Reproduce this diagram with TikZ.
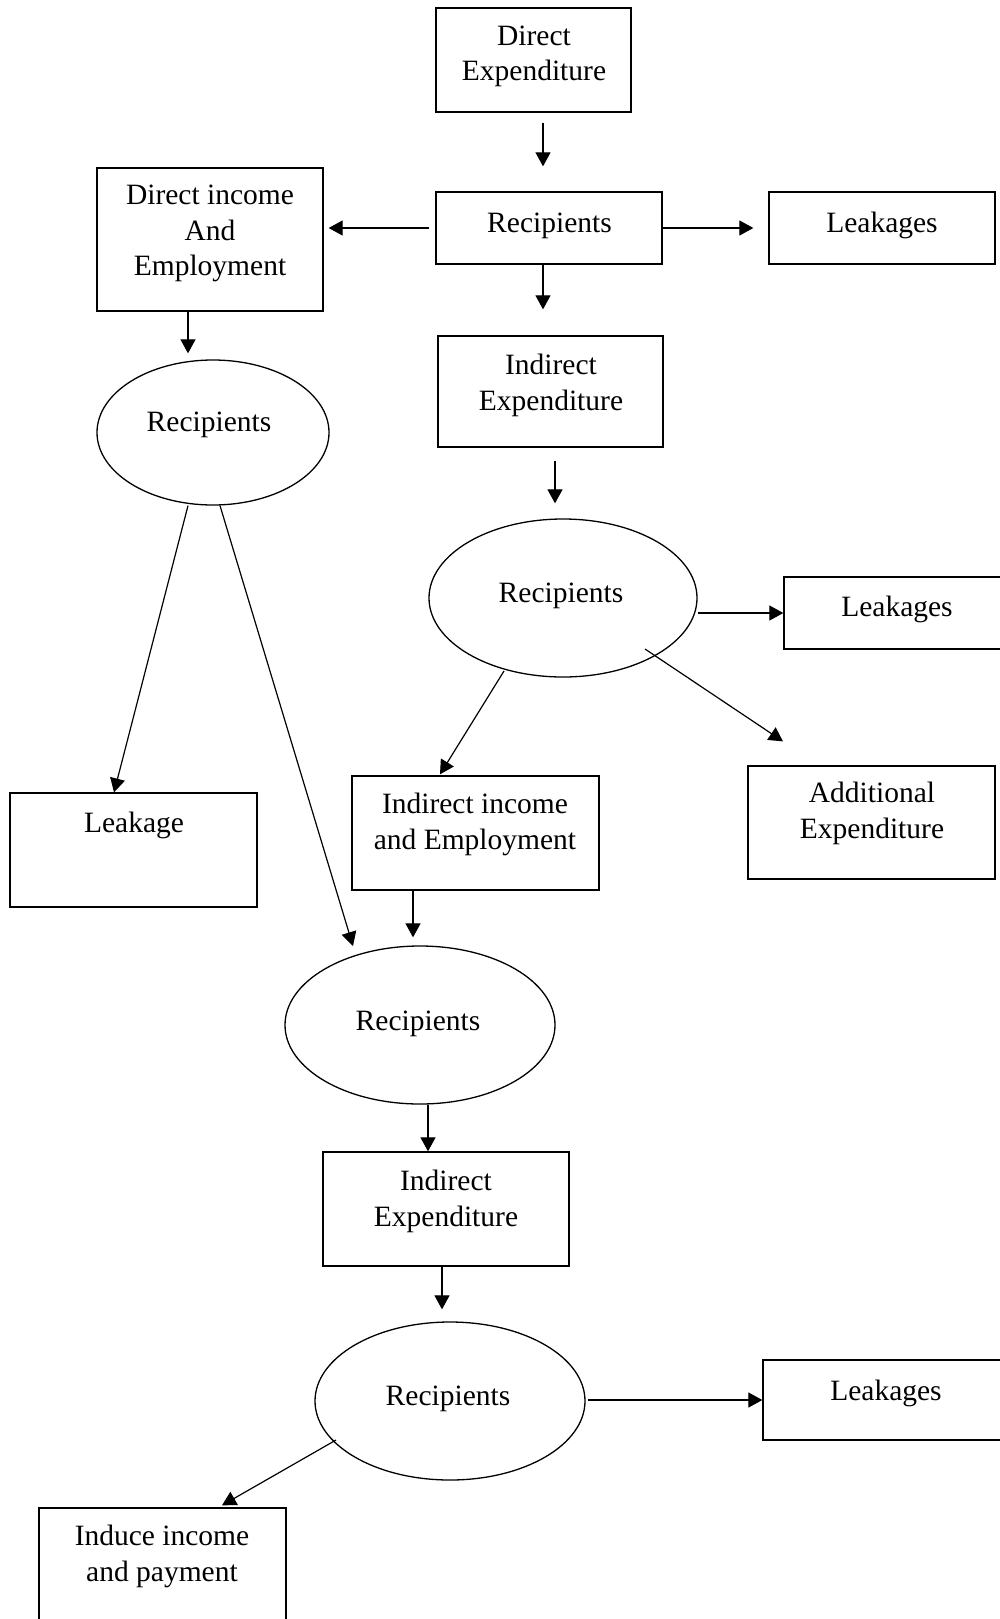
\documentclass[tikz,border=0pt]{standalone}
\usepackage{fontspec}
\setmainfont{Liberation Serif}
\usetikzlibrary{shapes.geometric,arrows.meta,calc}
\tikzset{
  box/.style={draw, rectangle, line width=1.3pt, inner sep=0pt},
  oval/.style={draw, ellipse, line width=1.3pt, inner sep=0pt},
  txt/.style={inner sep=0pt, align=center, font=\fontsize{29.5}{35.5}\selectfont, yshift=-3.5pt},
  arr/.style={line width=1.2pt, -{Triangle[length=14pt,width=15pt]}}
}
\begin{document}
\begin{tikzpicture}[x=1pt,y=-1pt]
\clip (0,0) rectangle (1000,1619);
\fill[white] (0,0) rectangle (1000,1619);
% shapes
\node[box, minimum width=195pt, minimum height=104pt] (de) at (533.5,60) {};
\node[box, minimum width=226pt, minimum height=72pt] (rec1) at (549,228) {};
\node[box, minimum width=226pt, minimum height=72pt] (leak1) at (882,228) {};
\node[box, minimum width=226pt, minimum height=143pt] (dinc) at (210,239.5) {};
\node[oval, minimum width=232pt, minimum height=145pt] (e1) at (213,432.5) {};
\node[box, minimum width=225pt, minimum height=111pt] (ie1) at (550.5,391.5) {};
\node[oval, minimum width=268pt, minimum height=158pt] (e2) at (563,598) {};
\node[box, minimum width=226pt, minimum height=72pt] (leak2) at (897,613) {};
\node[box, minimum width=247pt, minimum height=113pt] (add) at (871.5,822.5) {};
\node[box, minimum width=247pt, minimum height=114pt] (ii) at (475.5,833) {};
\node[box, minimum width=247pt, minimum height=114pt] (leakage) at (133.5,850) {};
\node[oval, minimum width=270pt, minimum height=158pt] (e3) at (420,1025) {};
\node[box, minimum width=246pt, minimum height=114pt] (ie2) at (446,1209) {};
\node[oval, minimum width=270pt, minimum height=158pt] (e4) at (450,1401) {};
\node[box, minimum width=247pt, minimum height=80pt] (leak3) at (886.5,1400) {};
\node[box, minimum width=247pt, minimum height=130pt] (ind) at (162.5,1573) {};
% texts
\node[txt] (tde) at (534,53) {Direct\\Expenditure};
\node[txt] (trec1) at (549.5,222) {Recipients};
\node[txt] (tleak1) at (882,222) {Leakages};
\node[txt] (tdinc) at (210,230) {Direct income\\And\\Employment};
\node[txt] (te1) at (209,421) {Recipients};
\node[txt] (tie1) at (551,382) {Indirect\\Expenditure};
\node[txt] (te2) at (561,592) {Recipients};
\node[txt] (tleak2) at (897,606) {Leakages};
\node[txt] (tadd) at (872,810) {Additional\\Expenditure};
\node[txt] (tii) at (475,821) {Indirect income\\and Employment};
\node[txt] (tleakage) at (134,822) {Leakage};
\node[txt] (te3) at (418,1020) {Recipients};
\node[txt] (tie2) at (446,1198) {Indirect\\Expenditure};
\node[txt] (te4) at (448,1395) {Recipients};
\node[txt] (tleak3) at (886,1390) {Leakages};
\node[txt] (tind) at (162,1553) {Induce income\\and payment};
% connectors
\draw[arr] ($(de.south)+(9.5,10)$) -- ($(rec1.north)+(-6,-25)$);
\draw[arr] ($(rec1.west)+(-6,0)$) -- ($(dinc.east |- rec1.west)+(5,0)$);
\draw[arr] (rec1.east) -- ($(leak1.west)+(-15,0)$);
\draw[arr] ($(rec1.south)+(-6,0)$) -- ($(ie1.north)+(-7.5,-26)$);
\draw[arr] ($(ie1.south)+(4.5,13)$) -- ($(e2.north)+(-8,-15)$);
\draw[arr] (e2.east |- leak2.west) -- (leak2.west);
\coordinate (e2a) at ($(e2.center)+(82,51)$);
\draw[arr] (e2a) -- ($(add.north)+(-88.5,-24)$);
\draw[arr] ($(e2.center)+(-59,73)$) -- ($(ii.north)+(-35.5,-1)$);
\draw[arr] ($(ii.south)+(-62.5,0)$) -- ($(e3.north)+(-7,-8)$);
\draw[arr] ($(dinc.south)+(-22,0)$) -- ($(e1.north)+(-25,-6)$);
\draw[arr] ($(e1.south)+(-25,0)$) -- ($(leakage.north)+(-19.5,0)$);
\draw[arr] ($(e1.south)+(7,0)$) -- ($(e3.center)+(-67,-79)$);
\draw[arr] ($(e3.south)+(8,0)$) -- ($(ie2.north)+(-18,0)$);
\draw[arr] ($(ie2.south)+(-4,0)$) -- ($(e4.north)+(-8,-12)$);
\draw[arr] ($(e4.east |- leak3.west)+(2,0)$) -- (leak3.west);
\draw[arr] ($(e4.center)+(-114,39)$) -- ($(ind.north)+(59.5,-2)$);
\end{tikzpicture}
\end{document}
